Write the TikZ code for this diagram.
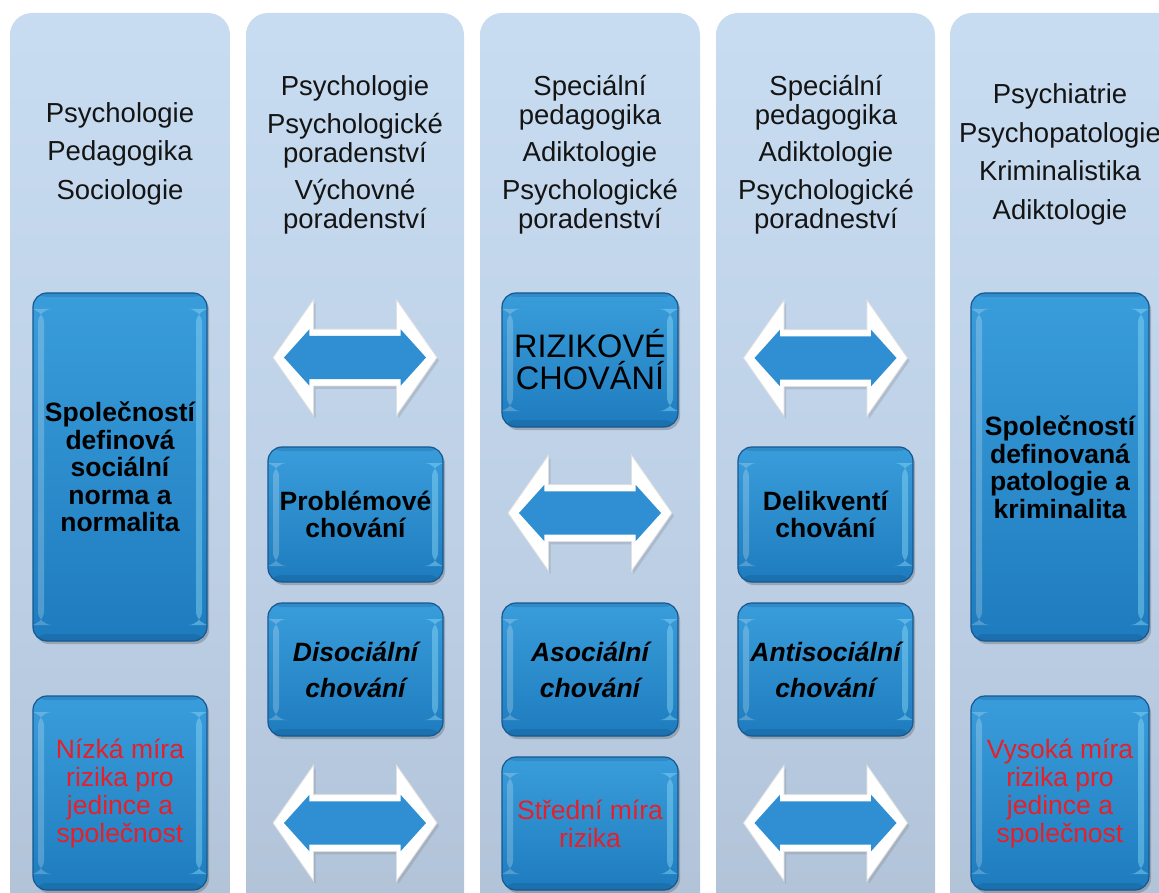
\documentclass[tikz,border=0pt]{standalone}
\usepackage{fontspec}
\setmainfont{Liberation Sans}
\usetikzlibrary{shapes.arrows,shadows}
\definecolor{coltop}{RGB}{200,220,241}
\definecolor{colmid}{RGB}{188,207,229}
\definecolor{colbot}{RGB}{163,178,197}
\definecolor{boxtop}{RGB}{58,157,219}
\definecolor{boxbot}{RGB}{30,124,190}
\definecolor{boxedge}{RGB}{22,88,145}
\definecolor{arrblue}{RGB}{47,143,210}
\definecolor{redtxt}{RGB}{228,32,42}
\definecolor{hdrtxt}{RGB}{20,20,20}
\pgfdeclareverticalshading{colshade}{100bp}{color(0bp)=(colbot); color(45bp)=(colmid); color(74bp)=(coltop); color(100bp)=(coltop)}
\begin{document}
\begin{tikzpicture}[x=1pt,y=-1pt,
  hdr/.style={align=center, inner sep=0pt, text=hdrtxt,
    font=\fontsize{27.5pt}{29pt}\selectfont},
  bbox/.style={rounded corners=14pt, draw=boxedge, line width=1.2pt,
    top color=boxtop, bottom color=boxbot, inner sep=0pt, align=center,
    text=black,
    drop shadow={shadow xshift=2pt, shadow yshift=-3pt, opacity=.3, fill=black!70},
    path picture={
      \fill[white, opacity=.22] ([xshift=5pt,yshift=-16pt]path picture bounding box.north west)
        rectangle ([xshift=11pt,yshift=16pt]path picture bounding box.south west);
      \fill[cyan!45!white, opacity=.45] ([xshift=-11pt,yshift=-16pt]path picture bounding box.north east)
        rectangle ([xshift=-5pt,yshift=16pt]path picture bounding box.south east);
      \fill[boxedge, opacity=.35] ([yshift=7pt]path picture bounding box.south west)
        rectangle (path picture bounding box.south east);
      \fill[boxedge, opacity=.25] ([yshift=-4pt]path picture bounding box.north west)
        rectangle (path picture bounding box.north east);
    }},
  btext/.style={font=\fontsize{26.5pt}{27.5pt}\selectfont\bfseries},
  itext/.style={font=\fontsize{26.5pt}{36pt}\selectfont\bfseries\itshape},
  redtext/.style={text=redtxt, font=\fontsize{26.5pt}{28pt}\selectfont},
  arrout/.style={double arrow, fill=white, draw=black!12, line width=0.8pt,
    minimum height=164pt, inner xsep=0pt, inner ysep=28pt,
    double arrow head extend=29.5pt, double arrow tip angle=110,
    drop shadow={shadow xshift=2pt, shadow yshift=-3pt, opacity=.2, fill=black!60}},
  arrin/.style={double arrow, fill=arrblue, draw=none,
    minimum height=142pt, inner xsep=0pt, inner ysep=21.5pt,
    double arrow head extend=6.5pt, double arrow tip angle=96},
]
\useasboundingbox (0,0) rectangle (1159,893);
\fill[white] (0,0) rectangle (1159,893);
\clip (0,0) rectangle (1159,893);

% columns
\shade[shading=colshade, rounded corners=22pt] (10,13) rectangle (230,940);
\shade[shading=colshade, rounded corners=22pt] (246,13) rectangle (464,940);
\shade[shading=colshade, rounded corners=22pt] (480,13) rectangle (700,940);
\shade[shading=colshade, rounded corners=22pt] (716,13) rectangle (935,940);
\shade[shading=colshade, rounded corners=22pt] (950,13) rectangle (1200,940);

% headers
\node[hdr] (h1) at (120,153.5) {Psychologie\\[9.5pt]Pedagogika\\[9.5pt]Sociologie};
\node[hdr] (h2) at (355,155) {Psychologie\\[9pt]Psychologické\\poradenství\\[8pt]Výchovné\\poradenství};
\node[hdr] (h3) at (590,154.5) {Speciální\\pedagogika\\[8.5pt]Adiktologie\\[8.5pt]Psychologické\\poradenství};
\node[hdr] (h4) at (826,154.5) {Speciální\\pedagogika\\[8.5pt]Adiktologie\\[8.5pt]Psychologické\\poradneství};
\node[hdr] (h5) at (1060,154.5) {Psychiatrie\\[9.5pt]Psychopatologie\\[9.5pt]Kriminalistika\\[9.5pt]Adiktologie};

% column 1
\node[bbox, btext, minimum width=174pt, minimum height=348pt] (b1) at (120,467)
  {Společností\\definová\\sociální\\norma a\\normalita};
\node[bbox, redtext, minimum width=174pt, minimum height=194pt] (b1r) at (120,793)
  {Nízká míra\\rizika pro\\jedince a\\společnost};

% column 2
\node[arrout] (a2t) at (355,357.5) {};
\node[arrin] (a2ti) at (a2t) {};
\node[bbox, btext, minimum width=175pt, minimum height=135pt] (c2a) at (355.5,514.5)
  {Problémové\\chování};
\node[bbox, itext, minimum width=175pt, minimum height=133pt] (c2b) at (355.5,669.5)
  {Disociální\\chování};
\node[arrout] (a2b) at (355,823) {};
\node[arrin] (a2bi) at (a2b) {};

% column 3
\node[bbox, minimum width=176pt, minimum height=134pt,
  font=\fontsize{32.5pt}{32pt}\selectfont] (c3a) at (590,360)
  {RIZIKOVÉ\\CHOVÁNÍ};
\node[arrout] (a3) at (590,513) {};
\node[arrin] (a3i) at (a3) {};
\node[bbox, itext, minimum width=176pt, minimum height=133pt] (c3b) at (590,669.5)
  {Asociální\\chování};
\node[bbox, redtext, minimum width=176pt, minimum height=133pt] (c3c) at (590,823.5)
  {Střední míra\\rizika};

% column 4
\node[arrout] (a4t) at (825.5,358) {};
\node[arrin] (a4ti) at (a4t) {};
\node[bbox, btext, minimum width=175pt, minimum height=135pt] (c4a) at (825.5,514.5)
  {Delikventí\\chování};
\node[bbox, itext, minimum width=175pt, minimum height=133pt] (c4b) at (825.5,669.5)
  {Antisociální\\chování};
\node[arrout] (a4b) at (825.5,823) {};
\node[arrin] (a4bi) at (a4b) {};

% column 5
\node[bbox, btext, minimum width=178pt, minimum height=348pt] (c5a) at (1060,467)
  {Společností\\definovaná\\patologie a\\kriminalita};
\node[bbox, redtext, minimum width=178pt, minimum height=194pt] (c5b) at (1060,793)
  {Vysoká míra\\rizika pro\\jedince a\\společnost};
\end{tikzpicture}
\end{document}
